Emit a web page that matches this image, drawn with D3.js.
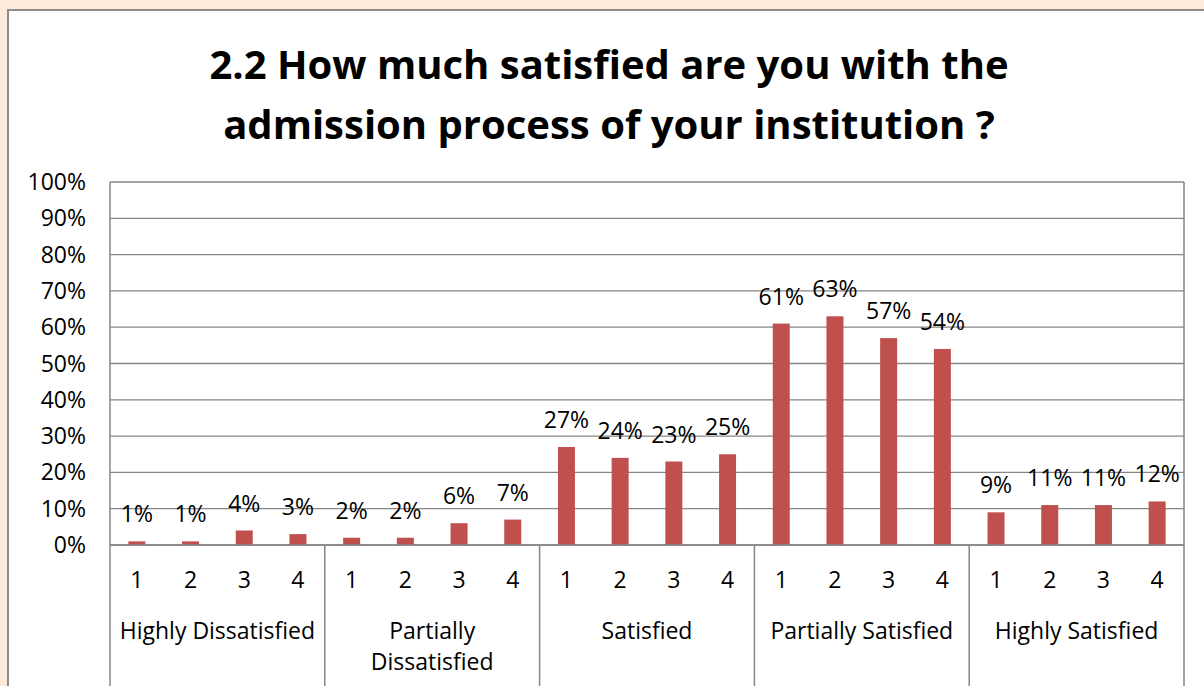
<!DOCTYPE html>
<html>
<head>
<meta charset="utf-8">
<script src="https://cdn.jsdelivr.net/npm/d3@7"></script>
<style>
  body { margin: 0; background: #fdeada; }
  svg { display: block; }
</style>
</head>
<body>
<svg width="1204" height="686"></svg>
<script>
const groups = ['Highly Dissatisfied', 'Partially Dissatisfied', 'Satisfied', 'Partially Satisfied', 'Highly Satisfied'];
const subLabels = ['1', '2', '3', '4'];
const values = [
  [1, 1, 4, 3],
  [2, 2, 6, 7],
  [27, 24, 23, 25],
  [61, 63, 57, 54],
  [9, 11, 11, 12]
];
const yTicks = [0, 10, 20, 30, 40, 50, 60, 70, 80, 90, 100];

const font = '"Open Sans", sans-serif';
const fs = 23;
const svg = d3.select('svg');

// chart panel
svg.append('rect')
  .attr('x', 8).attr('y', 10)
  .attr('width', 1210).attr('height', 690)
  .attr('fill', '#fff')
  .attr('stroke', '#8c8c8c').attr('stroke-width', 2);

svg.append('text')
  .attr('x', 609).attr('y', 79)
  .attr('text-anchor', 'middle')
  .attr('font-family', font).attr('font-weight', 'bold').attr('font-size', 40)
  .selectAll('tspan')
  .data(['2.2 How much satisfied are you with the', 'admission process of your institution ?'])
  .enter().append('tspan')
  .attr('x', 609).attr('dy', (d, i) => i ? 60 : 0)
  .text(d => d);

const plotL = 110, plotR = 1184, plotT = 182, plotB = 545;

const y = d3.scaleLinear().domain([0, 100]).range([plotB, plotT]);
const xGroup = d3.scaleBand().domain(groups).range([plotL, plotR]);
const xSub = d3.scaleBand().domain(subLabels).range([0, xGroup.bandwidth()]);

const flat = [];
groups.forEach((g, gi) => subLabels.forEach((s, si) => flat.push({ g, s, v: values[gi][si] })));

// gridlines
svg.append('g').selectAll('line').data(yTicks)
  .enter().append('line')
  .attr('x1', plotL).attr('x2', plotR)
  .attr('y1', d => y(d)).attr('y2', d => y(d))
  .attr('stroke', '#868686').attr('stroke-width', 1.3);

// y labels
svg.append('g').selectAll('text').data(yTicks)
  .enter().append('text')
  .attr('x', 86).attr('y', d => y(d))
  .attr('dy', '0.35em')
  .attr('text-anchor', 'end')
  .attr('font-family', font).attr('font-size', fs)
  .text(d => d + '%');

// axis lines
svg.append('line')
  .attr('x1', plotL).attr('x2', plotL).attr('y1', plotT).attr('y2', 686)
  .attr('stroke', '#868686').attr('stroke-width', 1.5);
svg.append('g').selectAll('line').data(groups)
  .enter().append('line')
  .attr('x1', d => xGroup(d) + xGroup.bandwidth())
  .attr('x2', d => xGroup(d) + xGroup.bandwidth())
  .attr('y1', (d, i) => i === groups.length - 1 ? plotT : plotB)
  .attr('y2', 686)
  .attr('stroke', '#868686').attr('stroke-width', 1.5);

// bars
const barW = 17;
const cx = d => xGroup(d.g) + xSub(d.s) + xSub.bandwidth() / 2;
svg.append('g').selectAll('rect').data(flat)
  .enter().append('rect')
  .attr('x', d => cx(d) - barW / 2)
  .attr('y', d => y(d.v))
  .attr('width', barW)
  .attr('height', d => plotB - y(d.v))
  .attr('fill', '#c0504d');

svg.append('line')
  .attr('x1', plotL).attr('x2', plotR).attr('y1', plotB).attr('y2', plotB)
  .attr('stroke', '#868686').attr('stroke-width', 1.5);

// value labels
svg.append('g').selectAll('text').data(flat)
  .enter().append('text')
  .attr('x', cx)
  .attr('y', d => y(d.v) - 27)
  .attr('dy', '0.35em')
  .attr('text-anchor', 'middle')
  .attr('font-family', font).attr('font-size', fs)
  .text(d => d.v + '%');

// sub labels
svg.append('g').selectAll('text').data(flat)
  .enter().append('text')
  .attr('x', cx).attr('y', 580)
  .attr('dy', '0.35em')
  .attr('text-anchor', 'middle')
  .attr('font-family', font).attr('font-size', fs)
  .text(d => d.s);

// group labels
const groupLines = { 'Partially Dissatisfied': ['Partially', 'Dissatisfied'] };
svg.append('g').selectAll('text').data(groups)
  .enter().append('text')
  .attr('text-anchor', 'middle')
  .attr('font-family', font).attr('font-size', fs)
  .each(function (d) {
    const lines = groupLines[d] || [d];
    d3.select(this).selectAll('tspan').data(lines)
      .enter().append('tspan')
      .attr('x', xGroup(d) + xGroup.bandwidth() / 2)
      .attr('y', (l, i) => 631 + i * 31)
      .attr('dy', '0.35em')
      .text(l => l);
  });
</script>
</body>
</html>
